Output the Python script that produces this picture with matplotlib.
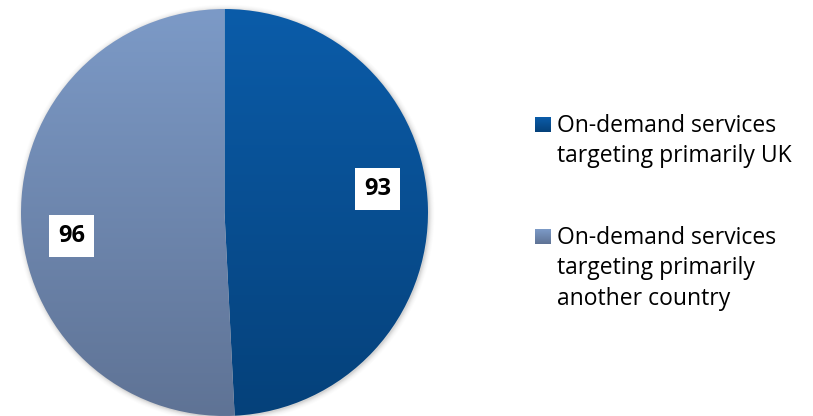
import numpy as np
import matplotlib
matplotlib.use('Agg')
import matplotlib.pyplot as plt
from matplotlib.colors import LinearSegmentedColormap

# ---- Data ----
labels = ['On-demand services\ntargeting primarily UK',
          'On-demand services\ntargeting primarily\nanother country']
values = [93, 96]

# gradient top/bottom colours per slice
grad_top = ['#0b5ca9', '#7c9ac7']
grad_bot = ['#05417a', '#5f7395']

W, H = 813, 416
fig = plt.figure(figsize=(W / 100, H / 100), dpi=100)
ax = fig.add_axes([0, 0, 1, 1])

cx, cy, r = 224.5, 416 - 212.5, 203.5

# soft shadow behind the pie
for k, a in zip(range(6), [0.05, 0.04, 0.03, 0.02, 0.015, 0.01]):
    ax.add_patch(plt.Circle((cx + 1, cy - 1), r + 0.5 + k, color='k', alpha=a, lw=0, zorder=0))

wedges, _ = ax.pie(values, startangle=90, counterclock=False,
                   center=(cx, cy), radius=r, frame=True,
                   wedgeprops=dict(linewidth=0, facecolor='none'))

for w, top, bot in zip(wedges, grad_top, grad_bot):
    cmap = LinearSegmentedColormap.from_list('g', [bot, top])
    grad = np.linspace(1, 0, 256).reshape(-1, 1)
    im = ax.imshow(grad, cmap=cmap, aspect='auto', origin='upper',
                   extent=(cx - r, cx + r, cy - r, cy + r), zorder=1)
    im.set_clip_path(w)

# value boxes, placed a bit past each slice's mid-angle
for w, v in zip(wedges, values):
    ang = np.deg2rad((w.theta1 + w.theta2) / 2 + 7.2)
    tx = cx + 155 * np.cos(ang)
    ty = cy + 155 * np.sin(ang)
    ax.text(tx, ty, str(v), ha='center', va='center', fontsize=17,
            fontweight='bold', family='Open Sans', color='black', zorder=5,
            bbox=dict(boxstyle='square,pad=0.38', fc='white', ec='none'))

# legend drawn by hand: swatch + wrapped text
leg_y = [416 - 117, 416 - 229]
for (y0, lab, top, bot) in zip(leg_y, labels, grad_top, grad_bot):
    cmap = LinearSegmentedColormap.from_list('g', [bot, top])
    grad = np.linspace(1, 0, 32).reshape(-1, 1)
    ax.imshow(grad, cmap=cmap, aspect='auto', origin='upper',
              extent=(535, 551, y0 - 15, y0), zorder=2)
    ax.text(557, y0 + 3, lab, ha='left', va='top', fontsize=16.5,
            family='Open Sans', color='black', linespacing=1.36)

ax.set_xlim(0, W)
ax.set_ylim(0, H)
ax.set_aspect('auto')
ax.axis('off')

fig.savefig('out.png', dpi=100)
